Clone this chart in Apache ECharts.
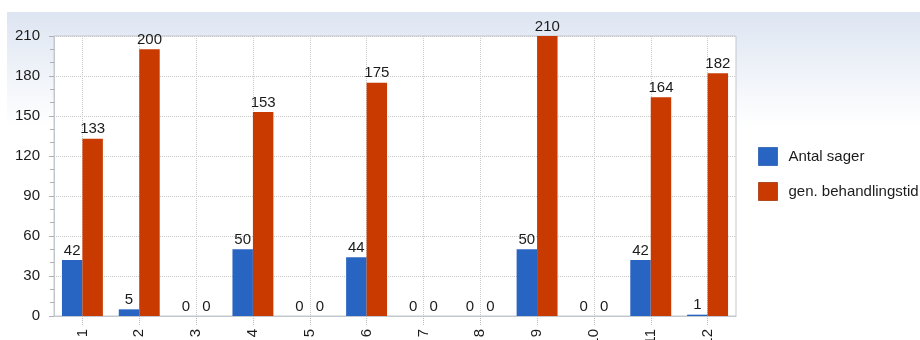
<!DOCTYPE html>
<html>
<head>
<meta charset="utf-8">
<script src="https://cdn.jsdelivr.net/npm/echarts@6/dist/echarts.min.js"></script>
<style>
  html, body { margin: 0; padding: 0; background: #fff; }
  #chart { width: 920px; height: 340px; }
</style>
</head>
<body>
<div id="chart"></div>
<script>
// Months 1..12
const categories = ['1', '2', '3', '4', '5', '6', '7', '8', '9', '10', '11', '12'];
// Number of cases per month
const antalSager = [42, 5, 0, 50, 0, 44, 0, 0, 50, 0, 42, 1];
// Average processing time per month
const behandlingstid = [133, 200, 0, 153, 0, 175, 0, 0, 210, 0, 164, 182];
const seriesNames = ['Antal sager', 'gen. behandlingstid'];

const FONT = 'Liberation Sans';
const TEXT = '#1b1b1b';
const AXIS = '#c3c7cf';
const GRID = '#c9c9c9';

const chart = echarts.init(document.getElementById('chart'), null, { renderer: 'canvas' });

const valueLabel = {
  show: true,
  position: 'top',
  distance: 2,
  color: TEXT,
  fontFamily: FONT,
  fontSize: 15
};

chart.setOption({
  animation: false,
  graphic: [{
    type: 'rect',
    z: -10,
    silent: true,
    shape: { x: 7, y: 12, width: 913, height: 328 },
    style: {
      fill: {
        type: 'linear', x: 0, y: 0, x2: 0, y2: 1,
        colorStops: [
          { offset: 0, color: '#dde5f2' },
          { offset: 0.35, color: '#ffffff' },
          { offset: 1, color: '#ffffff' }
        ]
      }
    }
  }],
  grid: {
    left: 54, right: 184, top: 36, bottom: 24,
    outerBoundsMode: 'none',
    containLabel: false,
    show: true,
    backgroundColor: '#ffffff',
    borderColor: AXIS,
    borderWidth: 1
  },
  legend: {
    orient: 'vertical',
    left: 758,
    top: 147,
    padding: 0,
    icon: 'rect',
    itemWidth: 19,
    itemHeight: 18,
    itemGap: 16,
    itemStyle: { borderWidth: 1 },
    textStyle: {
      color: TEXT, fontFamily: FONT, fontSize: 15,
      padding: [0, 0, 0, 6]
    },
    data: [
      { name: seriesNames[0], itemStyle: { borderColor: '#3f6fb8' } },
      { name: seriesNames[1], itemStyle: { borderColor: '#b04a20' } }
    ]
  },
  xAxis: {
    type: 'category',
    data: categories,
    boundaryGap: true,
    axisLine: { show: true, lineStyle: { color: AXIS } },
    axisTick: {
      show: true, alignWithLabel: true, length: 9,
      lineStyle: { color: '#b8b8b8', type: 'dotted' }
    },
    splitLine: {
      show: true, alignWithLabel: true,
      lineStyle: { color: GRID, type: 'dotted' }
    },
    axisLabel: {
      rotate: 90,
      margin: 13,
      interval: 0,
      color: TEXT,
      fontFamily: FONT,
      fontSize: 15
    }
  },
  yAxis: {
    type: 'value',
    min: 0,
    max: 210,
    interval: 30,
    axisLine: { show: true, lineStyle: { color: AXIS } },
    axisTick: { show: true, length: 5, lineStyle: { color: '#b0b0b0' } },
    minorTick: { show: true, splitNumber: 3, length: 4, lineStyle: { color: '#b0b0b0' } },
    splitLine: { show: true, lineStyle: { color: GRID, type: 'dotted' } },
    axisLabel: {
      margin: 14,
      color: TEXT,
      fontFamily: FONT,
      fontSize: 15
    }
  },
  series: [
    {
      name: seriesNames[0],
      type: 'bar',
      data: antalSager,
      barGap: '0%',
      barCategoryGap: '28%',
      itemStyle: { color: '#2865c3', borderWidth: 0 },
      label: valueLabel
    },
    {
      name: seriesNames[1],
      type: 'bar',
      data: behandlingstid,
      barGap: '0%',
      barCategoryGap: '28%',
      itemStyle: { color: '#c83a00', borderWidth: 0 },
      label: valueLabel
    }
  ]
});
</script>
</body>
</html>
